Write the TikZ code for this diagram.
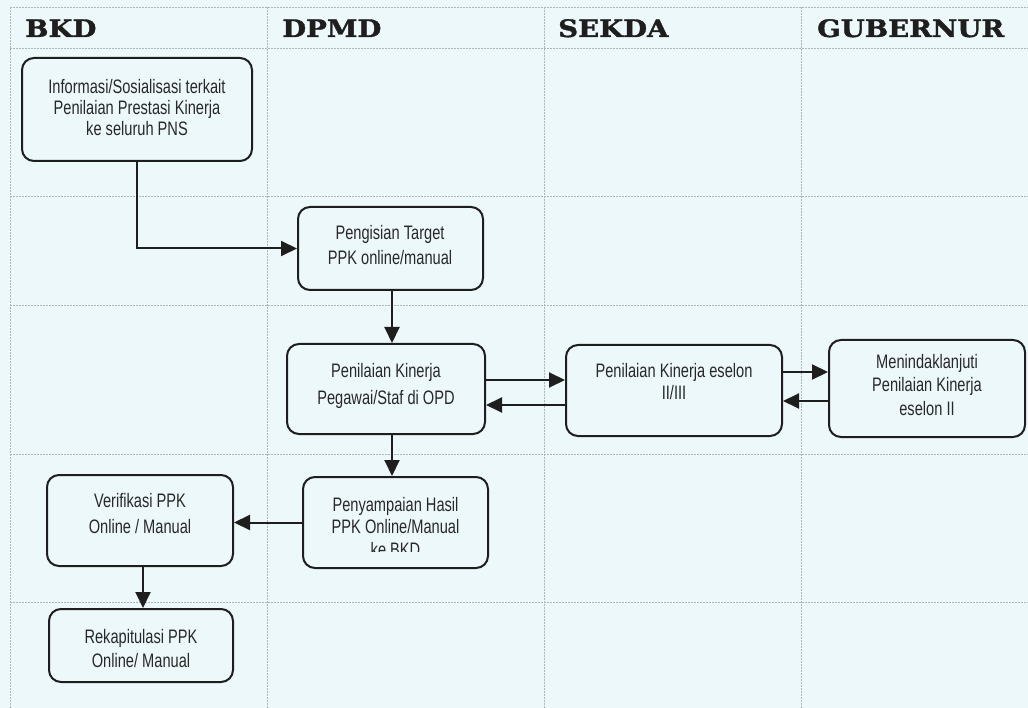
\documentclass[tikz,border=0pt]{standalone}
\usepackage{fontspec}
\usetikzlibrary{arrows.meta}
\newfontfamily\boxfont{Liberation Sans}[FakeStretch=0.75]
\newfontfamily\headfont{DejaVu Serif}[FakeStretch=1.15,FakeBold=1.5]
\definecolor{paper}{RGB}{237,248,251}
\definecolor{gridline}{RGB}{172,182,188}
\definecolor{ink}{RGB}{30,30,30}
\definecolor{txt}{RGB}{40,40,40}
\tikzset{
  lane/.style={draw=gridline, line width=0.8pt, dash pattern=on 2pt off 1pt},
  head/.style={anchor=base west, inner sep=0pt, text=ink,
    font=\headfont\bfseries\fontsize{24}{28}\selectfont},
  stepbox/.style={draw=ink, line width=2pt, rounded corners=12pt,
    rectangle, inner sep=0pt},
  boxtext/.style={align=center, text=txt, inner sep=0pt,
    font=\boxfont\fontsize{19.5}{23}\selectfont},
  flow/.style={draw=ink, line width=2pt, -{Triangle[length=16pt,width=15pt]}}
}
\begin{document}
\begin{tikzpicture}[x=1pt, y=-1pt]
  \useasboundingbox (0,0) rectangle (1028,708);
  \fill[paper] (0,0) rectangle (1028,708);

  % swimlane grid
  \foreach \yy in {7,48,196,305,454,602}
    \draw[lane] (10,\yy) -- (1028,\yy);
  \foreach \xx in {10,267,544,801}
    \draw[lane] (\xx,7) -- (\xx,708);

  % lane titles
  \node[head] (hbkd) at (25,37) {BKD};
  \node[head] (hdpmd) at (282,37) {DPMD};
  \node[head] (hsekda) at (558,37) {SEKDA};
  \node[head] (hgub) at (817,37) {GUBERNUR};

  % process steps: frames
  \node[stepbox, minimum width=230pt, minimum height=103pt] (info) at (137,109.5) {};
  \node[stepbox, minimum width=185pt, minimum height=83pt] (target) at (390.5,248.5) {};
  \node[stepbox, minimum width=198pt, minimum height=90pt] (nilai) at (386,389) {};
  \node[stepbox, minimum width=216pt, minimum height=91pt] (eselon) at (674,390.5) {};
  \node[stepbox, minimum width=196pt, minimum height=97pt] (tindak) at (927,388.5) {};
  \node[stepbox, minimum width=185pt, minimum height=91pt] (hasil) at (395.5,522.5) {};
  \node[stepbox, minimum width=186pt, minimum height=91pt] (verif) at (140,520.5) {};
  \node[stepbox, minimum width=184pt, minimum height=73pt] (rekap) at (141,645.5) {};

  % process steps: labels
  \node[boxtext, font=\boxfont\fontsize{19.5}{21}\selectfont] (infotxt) at (137,108)
    {Informasi/Sosialisasi terkait\\Penilaian Prestasi Kinerja\\ke seluruh PNS};
  \node[boxtext, font=\boxfont\fontsize{19.5}{25}\selectfont] (targettxt) at (390,245)
    {Pengisian Target\\PPK online/manual};
  \node[boxtext, font=\boxfont\fontsize{19.5}{27}\selectfont] (nilaitxt) at (386,386)
    {Penilaian Kinerja\\Pegawai/Staf di OPD};
  \node[boxtext, font=\boxfont\fontsize{19.5}{22}\selectfont] (eselontxt) at (674,382)
    {Penilaian Kinerja eselon\\II/III};
  \node[boxtext, font=\boxfont\fontsize{19.5}{23.5}\selectfont] (tindaktxt) at (927,385)
    {Menindaklanjuti\\Penilaian Kinerja\\eselon II};
  \begin{scope}
    \clip (hasil.north west) rectangle (hasil.east |- 0,551);
    \node[boxtext, font=\boxfont\fontsize{19.5}{22.5}\selectfont] (hasiltxt) at (395.5,527)
      {Penyampaian Hasil\\PPK Online/Manual\\ke BKD};
  \end{scope}
  \node[boxtext, font=\boxfont\fontsize{19.5}{26}\selectfont] (veriftxt) at (140,513.5)
    {Verifikasi PPK\\Online / Manual};
  \node[boxtext, font=\boxfont\fontsize{19.5}{24}\selectfont] (rekaptxt) at (141,649)
    {Rekapitulasi PPK\\Online/ Manual};

  % connectors
  \draw[flow] (info.south) |- (target.west);
  \draw[flow] (target.south -| 392,0) -- (nilai.north -| 392,0);
  \draw[flow] (nilai.east |- 0,380) -- (eselon.west |- 0,380);
  \draw[flow] (eselon.west |- 0,405) -- (nilai.east |- 0,405);
  \draw[flow] (eselon.east |- 0,372) -- (tindak.west |- 0,372);
  \draw[flow] (tindak.west |- 0,401) -- (eselon.east |- 0,401);
  \draw[flow] (nilai.south -| 392,0) -- (hasil.north -| 392,0);
  \draw[flow] (hasil.west) -- (verif.east |- hasil.west);
  \draw[flow] (verif.south -| 143,0) -- (rekap.north -| 143,0);
\end{tikzpicture}
\end{document}
